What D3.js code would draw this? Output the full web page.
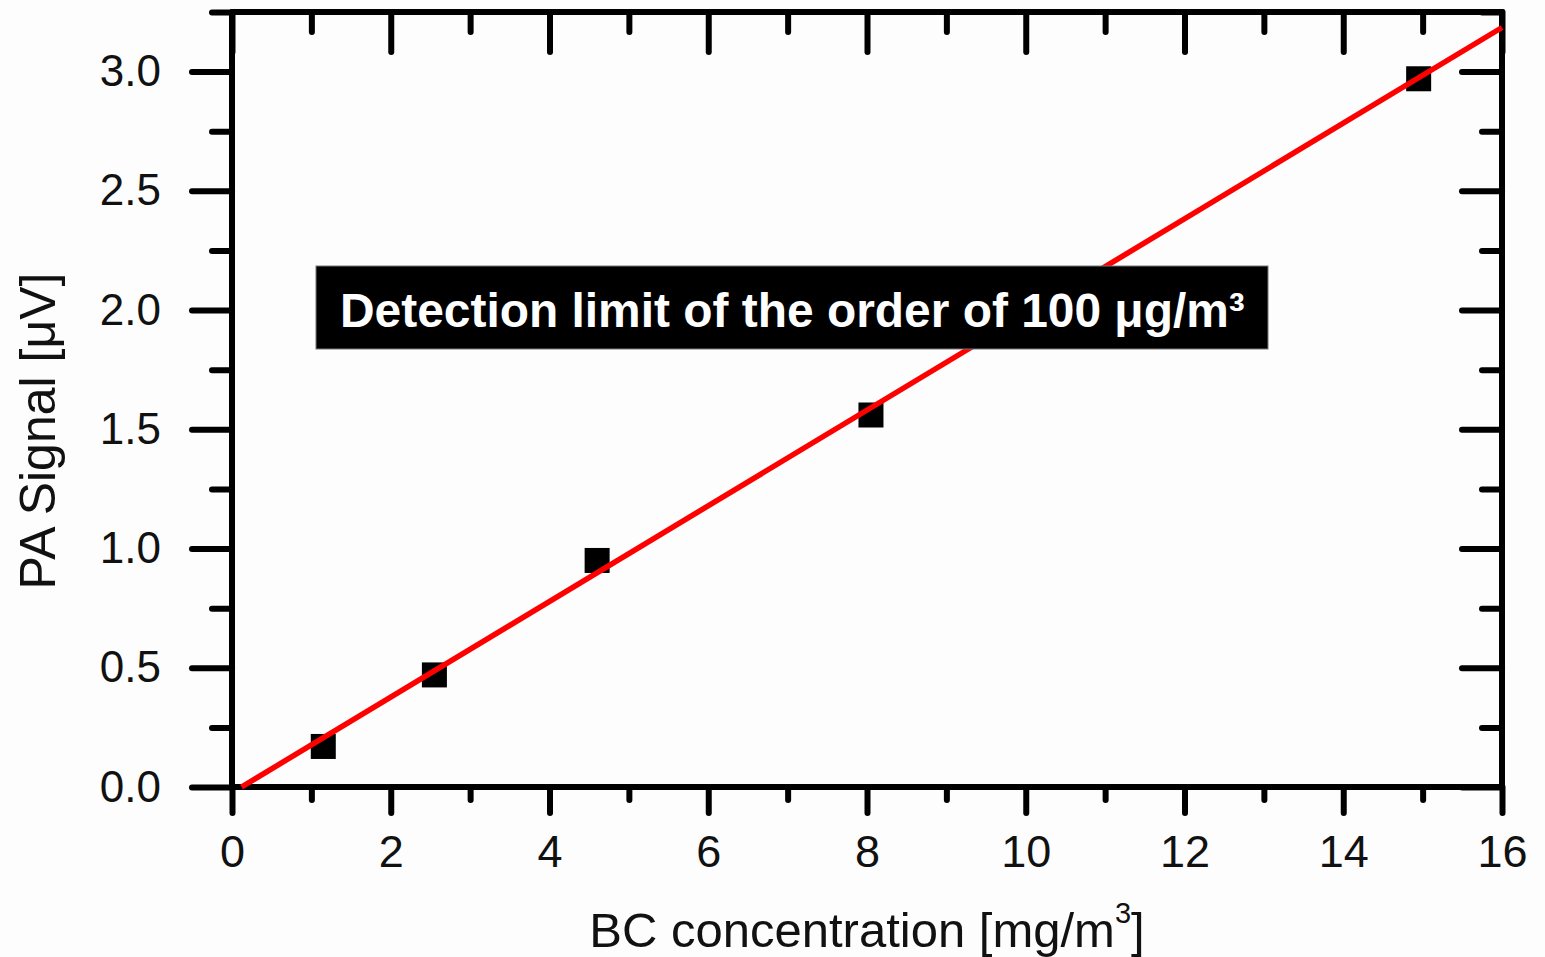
<!DOCTYPE html>
<html><head><meta charset="utf-8">
<script src="https://cdn.jsdelivr.net/npm/d3@7"></script>
<style>body{margin:0;background:#fff}svg{display:block}</style>
</head><body><svg id="c" width="1545" height="957"></svg>
<script>
// ---- data ----
const concX = [1.15, 2.55, 4.6, 8.05, 14.95];
const signalY = [0.17, 0.47, 0.95, 1.56, 2.97];
const fitX = [0.12, 16];
const fitY = [0, 3.185];
const xTicks = [0, 2, 4, 6, 8, 10, 12, 14, 16];
const xMinor = [1, 3, 5, 7, 9, 11, 13, 15];
const yTicks = [0, 0.5, 1.0, 1.5, 2.0, 2.5, 3.0];
const yMinor = [0.25, 0.75, 1.25, 1.75, 2.25, 2.75, 3.25];
const yTickLabels = ["0.0", "0.5", "1.0", "1.5", "2.0", "2.5", "3.0"];
const xTitle = "BC concentration [mg/m";
const yTitle = "PA Signal [\u03bcV]";
const noteText = "Detection limit of the order of 100 \u03bcg/m\u00b3";

const FONT = "'Liberation Sans', Arial, Helvetica, sans-serif";
const svg = d3.select("#c");
svg.append("rect").attr("width",1545).attr("height",957).attr("fill","#fdfdfd");

const x = d3.scaleLinear().domain([0,16]).range([232,1502]);
const y = d3.scaleLinear().domain([0,3.25]).range([787,12]);

function styleAxis(g, sw){
  g.select(".domain").remove();
  g.selectAll(".tick line").attr("stroke","#000").attr("stroke-width",sw).attr("stroke-linecap","round");
  g.selectAll(".tick text").attr("fill","#111").style("font-family",FONT);
}
// left
const gl = svg.append("g").attr("transform","translate(232,0)")
  .call(d3.axisLeft(y).tickValues(yTicks).tickSize(40).tickPadding(31)
    .tickFormat((d,i)=>yTickLabels[i]));
styleAxis(gl,6); gl.selectAll(".tick text").style("font-size","44px");
const glm = svg.append("g").attr("transform","translate(232,0)")
  .call(d3.axisLeft(y).tickValues(yMinor).tickSize(20).tickFormat(""));
styleAxis(glm,6);
// right
const gr = svg.append("g").attr("transform","translate(1502,0)")
  .call(d3.axisRight(y).tickValues(yTicks).tickSize(-40).tickFormat(""));
styleAxis(gr,6);
const grm = svg.append("g").attr("transform","translate(1502,0)")
  .call(d3.axisRight(y).tickValues(yMinor).tickSize(-20).tickFormat(""));
styleAxis(grm,6);
// bottom
const gb = svg.append("g").attr("transform","translate(0,787)")
  .call(d3.axisBottom(x).tickValues(xTicks).tickSize(26).tickPadding(22).tickFormat(d3.format("d")));
styleAxis(gb,6); gb.selectAll(".tick text").style("font-size","45px");
const gbm = svg.append("g").attr("transform","translate(0,787)")
  .call(d3.axisBottom(x).tickValues(xMinor).tickSize(13).tickFormat(""));
styleAxis(gbm,6);
// top
const gt = svg.append("g").attr("transform","translate(0,12)")
  .call(d3.axisTop(x).tickValues(xTicks).tickSize(-40).tickFormat(""));
styleAxis(gt,6);
const gtm = svg.append("g").attr("transform","translate(0,12)")
  .call(d3.axisTop(x).tickValues(xMinor).tickSize(-20).tickFormat(""));
styleAxis(gtm,6);

// frame
svg.append("rect").attr("x",x(0)).attr("y",y(3.25)).attr("width",x(16)-x(0)).attr("height",y(0)-y(3.25))
  .attr("fill","none").attr("stroke","#000").attr("stroke-width",6).attr("stroke-linejoin","round");

// points
const S = 25;
svg.selectAll("rect.pt").data(concX).enter().append("rect").attr("class","pt")
  .attr("x",(d)=>x(d)-S/2).attr("y",(d,i)=>y(signalY[i])-S/2).attr("width",S).attr("height",S).attr("fill","#000");

// fit line
svg.append("line").attr("x1",x(fitX[0])).attr("y1",y(fitY[0])).attr("x2",x(fitX[1])).attr("y2",y(fitY[1]))
  .attr("stroke","#ff0000").attr("stroke-width",5.5);

// annotation
svg.append("rect").attr("x",316).attr("y",266).attr("width",952).attr("height",83)
  .attr("fill","#000").attr("stroke","#777").attr("stroke-width",1);
const nt = svg.append("text").attr("x",340).attr("y",327).attr("fill","#fff")
  .style("font-family",FONT).style("font-weight","bold").style("font-size","44px").text(noteText);
const nw = nt.node().getComputedTextLength();
nt.style("font-size",(44*905/nw).toFixed(2)+"px");

// axis titles
const xt = svg.append("text").attr("x",867).attr("y",947).attr("text-anchor","middle").attr("fill","#111")
  .style("font-family",FONT).style("font-size","49px");
xt.append("tspan").text(xTitle);
xt.append("tspan").attr("dy",-24).style("font-size","29px").text("3");
xt.append("tspan").attr("dy",24).text("]");

svg.append("text").attr("transform","translate(55,431) rotate(-90)").attr("text-anchor","middle").attr("fill","#111")
  .style("font-family",FONT).style("font-size","50px").text(yTitle);
</script></body></html>
